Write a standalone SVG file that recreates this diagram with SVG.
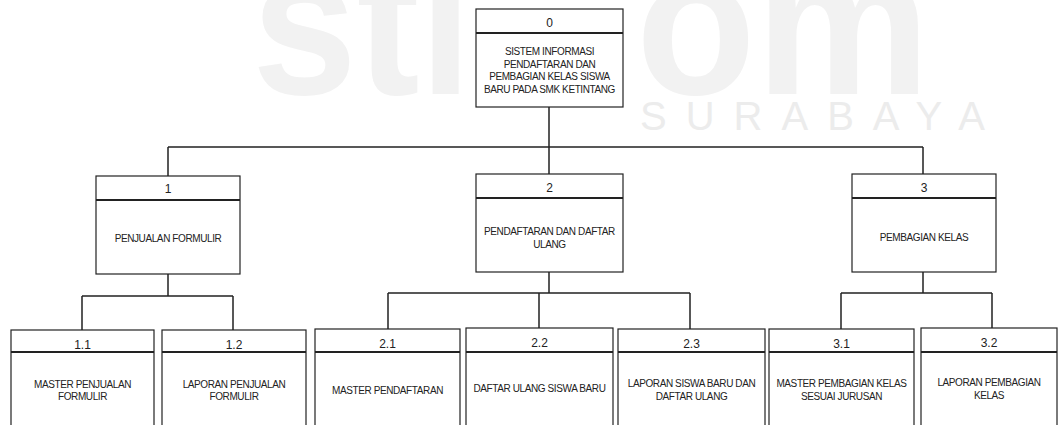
<svg xmlns="http://www.w3.org/2000/svg" width="1059" height="425" viewBox="0 0 1059 425">
<style>
.box{fill:#fff;stroke:#222;stroke-width:1.2}
.hdr{stroke:#222;stroke-width:2}
.con{fill:none;stroke:#222;stroke-width:1.5}
.num{font-family:"Liberation Sans",Arial,sans-serif;font-size:12px;fill:#222;text-anchor:middle}
.lbl{font-family:"Liberation Sans",Arial,sans-serif;font-size:10px;letter-spacing:-0.4px;fill:#222;text-anchor:middle}
.wm{font-family:"Liberation Sans",Arial,sans-serif;fill:#f2f2f2;font-weight:bold;font-size:205px}
</style>
<rect width="1059" height="425" fill="#fff"/>
<g id="watermark">
<text class="wm" x="252" y="94" textLength="220" lengthAdjust="spacingAndGlyphs">sti</text>
<text class="wm" x="636" y="94" textLength="294" lengthAdjust="spacingAndGlyphs">om</text>
<text x="640" y="130" font-family="Liberation Sans,Arial,sans-serif" font-size="40" textLength="345" lengthAdjust="spacing" fill="#ececec">SURABAYA</text>
</g>
<g id="connectors">
<path class="con" d="M549 107V147M168 147H923M168 147V176M549 147V174M923 147V174"/>
<path class="con" d="M168 274V296M82 296H233M82 296V330M233 296V330"/>
<path class="con" d="M549 272V293M388 293H690M388 293V329M539 293V328M690 293V329"/>
<path class="con" d="M923 272V293M841 293H992M841 293V329M992 293V328"/>
</g>
<g id="n0">
<rect class="box" x="476" y="9" width="147" height="98"/>
<line class="hdr" x1="476" y1="33" x2="623" y2="33"/>
<text class="num" x="549.5" y="27">0</text>
<text class="lbl" x="549.5" y="55">SISTEM INFORMASI</text>
<text class="lbl" x="549.5" y="67.7">PENDAFTARAN DAN</text>
<text class="lbl" x="549.5" y="80.4">PEMBAGIAN KELAS SISWA</text>
<text class="lbl" x="549.5" y="93">BARU PADA SMK KETINTANG</text>
</g>
<g id="n1">
<rect class="box" x="96" y="176" width="144" height="98"/>
<line class="hdr" x1="96" y1="200" x2="240" y2="200"/>
<text class="num" x="168" y="193">1</text>
<text class="lbl" x="168" y="242">PENJUALAN FORMULIR</text>
</g>
<g id="n2">
<rect class="box" x="476" y="174" width="147" height="98"/>
<line class="hdr" x1="476" y1="198" x2="623" y2="198"/>
<text class="num" x="549.5" y="192">2</text>
<text class="lbl" x="549.5" y="235">PENDAFTARAN DAN DAFTAR</text>
<text class="lbl" x="549.5" y="247.5">ULANG</text>
</g>
<g id="n3">
<rect class="box" x="852" y="174" width="144" height="98"/>
<line class="hdr" x1="852" y1="198" x2="996" y2="198"/>
<text class="num" x="924" y="192">3</text>
<text class="lbl" x="924" y="240.7">PEMBAGIAN KELAS</text>
</g>
<g id="n1_1">
<rect class="box" x="11" y="330" width="143" height="110"/>
<line class="hdr" x1="11" y1="352" x2="154" y2="352"/>
<text class="num" x="82.5" y="348.5">1.1</text>
<text class="lbl" x="82.5" y="387.5">MASTER PENJUALAN</text>
<text class="lbl" x="82.5" y="400">FORMULIR</text>
</g>
<g id="n1_2">
<rect class="box" x="162" y="330" width="144" height="110"/>
<line class="hdr" x1="162" y1="352" x2="306" y2="352"/>
<text class="num" x="234" y="348.5">1.2</text>
<text class="lbl" x="234" y="387.5">LAPORAN PENJUALAN</text>
<text class="lbl" x="234" y="400">FORMULIR</text>
</g>
<g id="n2_1">
<rect class="box" x="315" y="329" width="145" height="111"/>
<line class="hdr" x1="315" y1="352" x2="460" y2="352"/>
<text class="num" x="387.5" y="347.5">2.1</text>
<text class="lbl" x="387.5" y="394">MASTER PENDAFTARAN</text>
</g>
<g id="n2_2">
<rect class="box" x="466" y="328" width="147" height="112"/>
<line class="hdr" x1="466" y1="352" x2="613" y2="352"/>
<text class="num" x="539.5" y="347">2.2</text>
<text class="lbl" x="539.5" y="391.7">DAFTAR ULANG SISWA BARU</text>
</g>
<g id="n2_3">
<rect class="box" x="618" y="329" width="147" height="111"/>
<line class="hdr" x1="618" y1="352" x2="765" y2="352"/>
<text class="num" x="691.5" y="347.5">2.3</text>
<text class="lbl" x="691.5" y="386.7">LAPORAN SISWA BARU DAN</text>
<text class="lbl" x="691.5" y="399.5">DAFTAR ULANG</text>
</g>
<g id="n3_1">
<rect class="box" x="769" y="329" width="145" height="111"/>
<line class="hdr" x1="769" y1="352" x2="914" y2="352"/>
<text class="num" x="841.5" y="347.5">3.1</text>
<text class="lbl" x="841.5" y="387.3">MASTER PEMBAGIAN KELAS</text>
<text class="lbl" x="841.5" y="400">SESUAI JURUSAN</text>
</g>
<g id="n3_2">
<rect class="box" x="921" y="328" width="136" height="112"/>
<line class="hdr" x1="921" y1="352" x2="1057" y2="352"/>
<text class="num" x="989" y="347">3.2</text>
<text class="lbl" x="989" y="386">LAPORAN PEMBAGIAN</text>
<text class="lbl" x="989" y="398.5">KELAS</text>
</g>
</svg>
